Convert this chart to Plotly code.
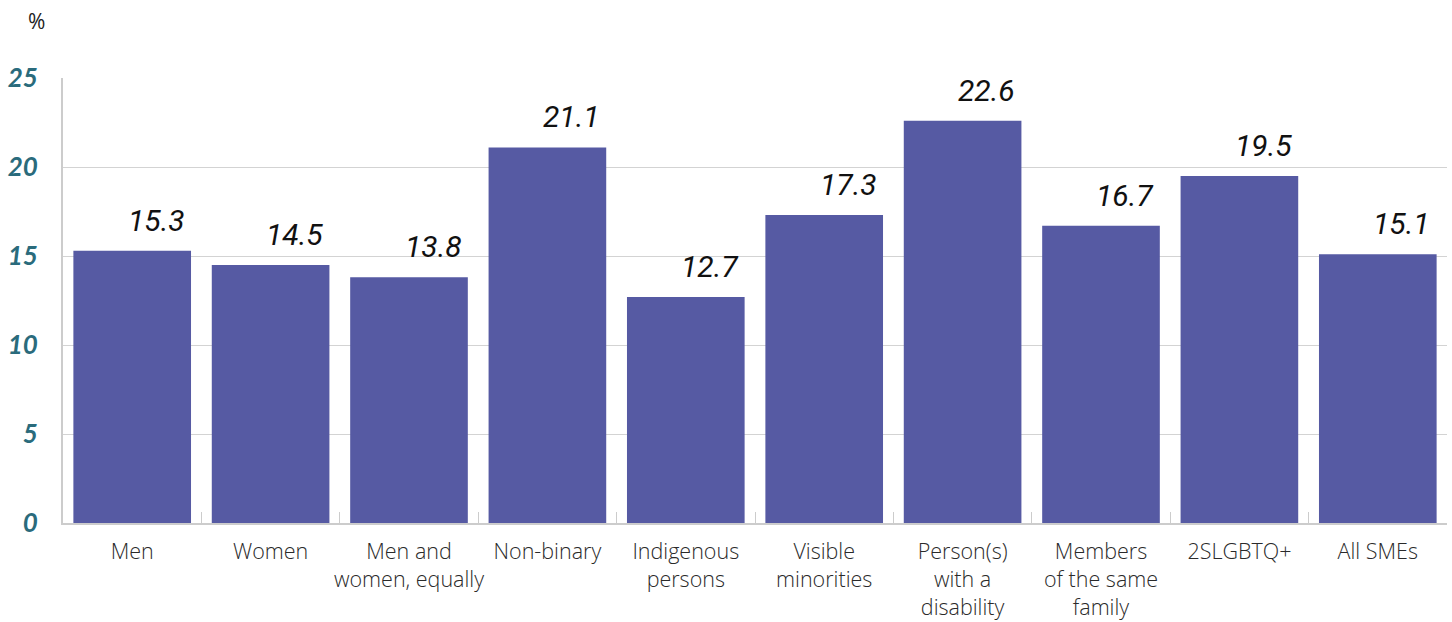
import plotly.graph_objects as go

categories = ["Men", "Women", "Men and<br>women, equally", "Non-binary", "Indigenous<br>persons",
              "Visible<br>minorities", "Person(s)<br>with a<br>disability", "Members<br>of the same<br>family",
              "2SLGBTQ+", "All SMEs"]
values = [15.3, 14.5, 13.8, 21.1, 12.7, 17.3, 22.6, 16.7, 19.5, 15.1]
y_ticks = [0, 5, 10, 15, 20, 25]

fig = go.Figure()
fig.add_trace(go.Bar(x=categories, y=values, marker=dict(color="#565aa3", line=dict(width=0)),
                     hoverinfo="skip"))

for c, v in zip(categories, values):
    fig.add_annotation(x=c, y=v, text=f"{v:.1f}", showarrow=False, xref="x", yref="y",
                       yanchor="bottom", xshift=24, yshift=11,
                       font=dict(family="Roboto", size=30, color="#111111", style="italic"))

fig.add_annotation(x=(36 - 63) / (1452 - 63 - 5), y=1 + (78 - 21) / (622 - 78 - 99),
                   xref="paper", yref="paper", yanchor="middle", xanchor="center",
                   text="%", showarrow=False,
                   font=dict(family="Open Sans", size=21, color="#222222"))

fig.update_layout(
    width=1452, height=622,
    margin=dict(l=63, r=5, t=78, b=99, autoexpand=False),
    paper_bgcolor="white", plot_bgcolor="white",
    bargap=0.15, showlegend=False,
    xaxis=dict(tickson="boundaries", ticks="inside", ticklen=11, tickcolor="#cccccc",
               showline=True, linecolor="#cccccc", linewidth=2, tickangle=0, automargin=False,
               ticklabelstandoff=8,
               tickfont=dict(family="Open Sans", size=21.5, color="#2a2a2a", weight=300), showgrid=False),
    yaxis=dict(range=[0, 25], tickvals=y_ticks, showgrid=True, gridcolor="#d3d3d3", gridwidth=1,
               showline=True, linecolor="#cccccc", linewidth=2, zeroline=False, automargin=False,
               ticks="", ticklabelstandoff=18,
               tickfont=dict(family="Lato", size=26, color="#2a6b7c", style="italic", weight=700)),
)

fig.write_html("out.html")
